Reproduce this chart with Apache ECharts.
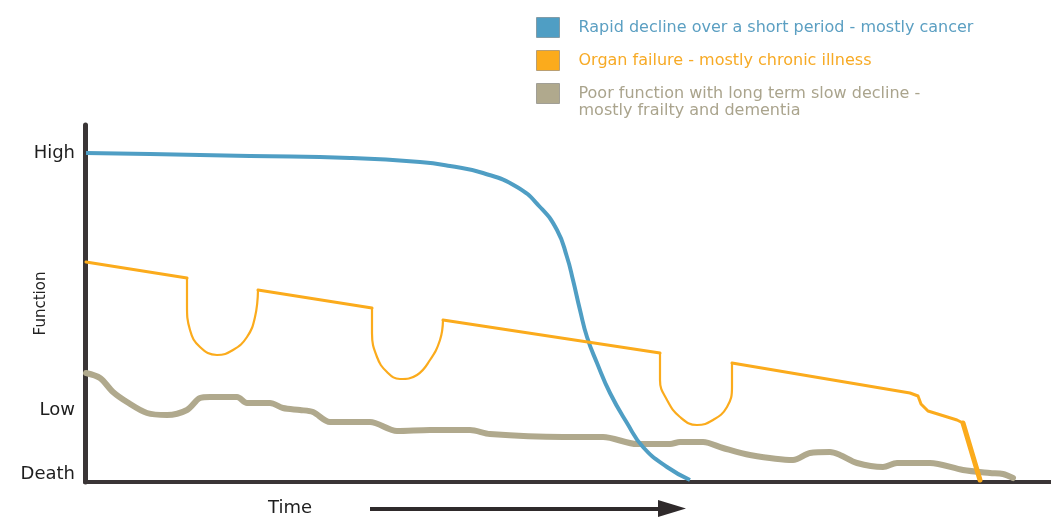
<!DOCTYPE html>
<html><head><meta charset="utf-8">
<script src="https://cdn.jsdelivr.net/npm/echarts@6/dist/echarts.min.js"></script>
<style>html,body{margin:0;padding:0;background:#fff}#c{width:1051px;height:518px}</style>
</head><body><div id="c"></div><script>
// Trajectory names (legend)
const seriesNames = [
  'Rapid decline over a short period - mostly cancer',
  'Organ failure - mostly chronic illness',
  'Poor function with long term slow decline -\nmostly frailty and dementia'
];
const seriesColors = ['#4f9ec4', '#fbab1c', '#b0a98d'];
const legendTextColors = ['#5b9fc2', '#f7aa25', '#aaa48d'];

// Y-axis tick labels and their positions on the function scale (0..357)
const yTickLabels = ['Death', 'Low', 'High'];
const yTickValues = [8, 72, 329];

// Cancer: rapid decline
const cancerX = [1, 65, 165, 265, 335, 365, 398, 432, 455, 472, 482, 488, 495, 502, 512, 525, 542, 558, 582, 605];
const cancerY = [329, 328, 326, 324, 320, 316, 309, 295, 275, 252, 225, 202, 172, 145, 119, 89, 59, 35, 15, 2];

// Organ failure: stepwise decline with acute episodes
const organX = [1, 102, 102, 105, 115, 132, 148, 162, 170, 173,
  287, 287, 292, 302, 315, 332, 345, 355, 358,
  575, 575, 582, 595, 612, 628, 642, 647, 647,
  825, 833, 836, 843, 872, 878, 895];
const organY = [220, 204, 177, 152, 135, 127, 132, 145, 165, 192,
  174, 149, 125, 110, 103, 107, 122, 142, 162,
  129, 102, 82, 65, 57, 62, 75, 95, 119,
  89, 86, 78, 71, 62, 59, 2];

// Frailty / dementia: low, slow decline
const frailX = [1, 15, 28, 42, 62, 82, 102, 115, 125, 152, 162, 185, 198, 215, 228, 245, 285, 312, 345, 385, 405, 478, 518, 552, 585, 595, 618, 638, 665, 708, 725, 745, 755, 772, 798, 812, 845, 878, 905, 918, 928];
const frailY = [109, 104, 90, 80, 69, 67, 72, 84, 85, 85, 79, 79, 74, 72, 70, 60, 60, 51, 52, 52, 48, 45, 45, 38, 38, 40, 40, 34, 27, 22, 29, 30, 27, 19, 15, 19, 19, 12, 9, 8, 4];

const zip = (xs, ys) => xs.map((x, i) => [x, ys[i]]);
const font = '"DejaVu Sans", "Liberation Sans", Arial, sans-serif';

const chart = echarts.init(document.getElementById('c'), null, {renderer: 'canvas'});

const legendTops = [17, 50, 68];
const legends = seriesNames.map((n, i) => ({
  show: true,
  selectedMode: false,
  orient: 'vertical',
  left: 536,
  top: legendTops[i],
  padding: 0,
  itemWidth: 23,
  itemHeight: 20,
  formatter: i === 2 ? (name => '\n' + name) : (name => name),
  data: [{
    name: n,
    icon: 'rect',
    itemStyle: {color: seriesColors[i], borderColor: 'rgba(60,60,60,0.35)', borderWidth: 1}
  }],
  textStyle: {color: legendTextColors[i], fontSize: 16, fontFamily: font, lineHeight: 17, padding: [0, 0, 0, 14]}
}));

// Organ-failure line is drawn in pieces: straight declines and rounded acute episodes
const organPieces = [
  {from: 0, to: 1, curve: false, w: 3},
  {from: 1, to: 9, curve: true, w: 2.2},
  {from: 9, to: 10, curve: false, w: 3},
  {from: 10, to: 18, curve: true, w: 2.2},
  {from: 18, to: 19, curve: false, w: 3},
  {from: 19, to: 27, curve: true, w: 2.2},
  {from: 27, to: 33, curve: false, w: 3},
  {from: 33, to: 34, curve: false, w: 5}
];
const organData = zip(organX, organY);
const organSeries = organPieces.map(p => ({
  name: seriesNames[1], type: 'line',
  data: organData.slice(p.from, p.to + 1),
  smooth: p.curve ? 0.45 : false,
  showSymbol: false, symbol: 'none',
  lineStyle: {color: seriesColors[1], width: p.w, cap: 'round', join: 'round'},
  itemStyle: {color: seriesColors[1]}, z: 4
}));

const option = {
  animation: false,
  backgroundColor: '#fff',
  legend: legends,
  grid: {left: 85, right: 0, top: 125, bottom: 36, containLabel: false, outerBoundsMode: 'none'},
  xAxis: {
    type: 'value', min: 0, max: 966,
    axisLine: {show: true, lineStyle: {color: '#3a3536', width: 4}},
    axisTick: {show: false}, axisLabel: {show: false}, splitLine: {show: false}
  },
  yAxis: {
    type: 'value', min: 0, max: 357,
    name: 'Function', nameLocation: 'middle', nameRotate: 90, nameGap: 36,
    nameMoveOverlap: false,
    nameTextStyle: {color: '#222', fontSize: 15, fontFamily: font},
    axisLine: {show: true, lineStyle: {color: '#3a3536', width: 5}},
    axisTick: {show: false}, splitLine: {show: false},
    axisLabel: {
      show: true, margin: 10, color: '#1e1e1e', fontSize: 18, fontFamily: font,
      customValues: yTickValues,
      formatter: v => yTickLabels[yTickValues.indexOf(v)] || ''
    }
  },
  series: [
    {name: seriesNames[0], type: 'line', data: zip(cancerX, cancerY), smooth: 0.5, showSymbol: false, symbol: 'none',
     lineStyle: {color: seriesColors[0], width: 4}, itemStyle: {color: seriesColors[0]}, z: 3},
    ...organSeries,
    {name: seriesNames[2], type: 'line', data: zip(frailX, frailY), smooth: 0.3, showSymbol: false, symbol: 'none',
     lineStyle: {color: seriesColors[2], width: 6, cap: 'round', join: 'round'}, itemStyle: {color: seriesColors[2]}, z: 2}
  ],
  graphic: [
    {type: 'text', left: 268, top: 499, style: {text: 'Time', fill: '#1e1e1e', font: '18px ' + font}},
    {type: 'line', shape: {x1: 370, y1: 509, x2: 664, y2: 509}, style: {stroke: '#2f2a2b', lineWidth: 4}},
    {type: 'polygon', shape: {points: [[658, 500], [686, 508.5], [658, 517]]}, style: {fill: '#2f2a2b'}}
  ]
};
chart.setOption(option);
</script></body></html>
